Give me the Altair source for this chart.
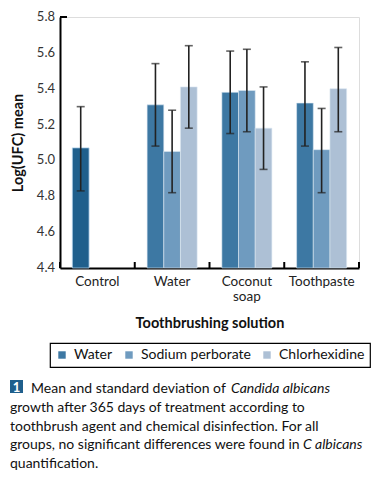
import altair as alt
import pandas as pd

categories = ["Control", "Water", "Coconut soap", "Toothpaste"]
series = ["Water", "Sodium perborate", "Chlorhexidine"]
treated = ["Water", "Coconut soap", "Toothpaste"]
colors = ["#3d78a3", "#6f9bbf", "#adc0d5"]
control_color = "#1f5f8c"

control_mean = [5.07]
control_low = [4.83]
control_high = [5.30]

water_mean = [5.31, 5.38, 5.32]
water_low = [5.08, 5.15, 5.08]
water_high = [5.54, 5.61, 5.55]
perborate_mean = [5.05, 5.39, 5.06]
perborate_low = [4.82, 5.16, 4.82]
perborate_high = [5.28, 5.62, 5.29]
chlor_mean = [5.41, 5.18, 5.40]
chlor_low = [5.18, 4.95, 5.16]
chlor_high = [5.64, 5.41, 5.63]

y_ticks = [4.4, 4.6, 4.8, 5.0, 5.2, 5.4, 5.6, 5.8]
y_labels = ["4.4", "4.6", "4.8", "5.0", "5.2", "5.4", "5.6", "5.8"]

caption_first = "Mean and standard deviation of"
caption_first_italic = "Candida albicans"
caption_rest = ["growth after 365 days of treatment according to",
                "toothbrush agent and chemical disinfection. For all",
                "groups, no significant differences were found in",
                "quantification."]
caption_fourth_italic = "C albicans"

FONT = "Lato"

rows = []
for s, m, lo, hi in [("Water", water_mean, water_low, water_high),
                     ("Sodium perborate", perborate_mean, perborate_low, perborate_high),
                     ("Chlorhexidine", chlor_mean, chlor_low, chlor_high)]:
    for g, a, b, c in zip(treated, m, lo, hi):
        rows.append({"solution": g, "series": s, "mean": a, "low": b, "high": c})
df = pd.DataFrame(rows)
ctrl = pd.DataFrame({"solution": ["Control"], "series": ["Water"],
                     "mean": control_mean, "low": control_low, "high": control_high})
allerr = pd.concat([df, ctrl], ignore_index=True)

W, H = 299, 251

xenc = alt.X("solution:N", scale=alt.Scale(domain=categories, paddingInner=0, paddingOuter=0),
             axis=alt.Axis(title="Toothbrushing solution", labelAngle=0, ticks=False,
                           domainColor="black", domainWidth=2, labelFont=FONT, labelFontSize=13.5,
                           labelColor="#222", labelPadding=6, labelLineHeight=15,
                           labelExpr="split(datum.label, ' ')",
                           titleFont=FONT, titleFontSize=14.5, titleFontWeight="bold",
                           titleColor="#111", titlePadding=14))
xoff = alt.XOffset("series:N", scale=alt.Scale(domain=series, paddingInner=0, paddingOuter=0.742))
yenc = alt.Y("mean:Q", scale=alt.Scale(domain=[4.4, 5.8], zero=False, nice=False),
             axis=alt.Axis(title="Log(UFC) mean", values=y_ticks, grid=False, ticks=False, labels=False,
                           domainColor="black", domainWidth=2,
                           titleFont=FONT, titleFontSize=14.5, titleFontWeight="bold",
                           titleColor="#111", titleX=-42, titleY=H / 2, titleAngle=270,
                           titleAlign="center", titleBaseline="middle"))

bars = alt.Chart(df).mark_bar(stroke="#dbe7f1", strokeWidth=0.6).encode(
    x=xenc, xOffset=xoff, y=yenc, y2=alt.datum(4.4),
    color=alt.Color("series:N", scale=alt.Scale(domain=series, range=colors),
                    legend=alt.Legend(title=None, orient="none", direction="horizontal",
                                      legendX=-10, legendY=326, strokeColor="black",
                                      padding=5, symbolType="square",
                                      symbolSize=55, symbolStrokeWidth=0, labelFont=FONT,
                                      labelFontSize=14, labelColor="#111", columnPadding=9,
                                      labelOffset=5)))

ctrl_bar = alt.Chart(ctrl).mark_bar(color=control_color, stroke="#a9cbe6", strokeWidth=0.8).encode(
    x=alt.X("solution:N"), xOffset=alt.XOffset("series:N"), y=alt.Y("mean:Q"), y2=alt.datum(4.4))

err = alt.Chart(allerr).mark_rule(color="#222", strokeWidth=1.6).encode(
    x=alt.X("solution:N"), xOffset=alt.XOffset("series:N"), y=alt.Y("low:Q"), y2="high:Q")
cap_lo = alt.Chart(allerr).mark_tick(color="#222", size=8, thickness=1.6).encode(
    x=alt.X("solution:N"), xOffset=alt.XOffset("series:N"), y=alt.Y("low:Q"))
cap_hi = alt.Chart(allerr).mark_tick(color="#222", size=8, thickness=1.6).encode(
    x=alt.X("solution:N"), xOffset=alt.XOffset("series:N"), y=alt.Y("high:Q"))

ylab = alt.Chart(pd.DataFrame({"v": y_ticks, "t": y_labels})).mark_text(
    font=FONT, fontSize=13, color="#333", align="right", baseline="middle").encode(
    y=alt.Y("v:Q"), x=alt.value(-5), text="t:N")

tick_df = pd.DataFrame({"solution": categories})
xticks = alt.Chart(tick_df).mark_rule(color="black", strokeWidth=2).encode(
    x=alt.X("solution:N", bandPosition=0), y=alt.value(H), y2=alt.value(H - 6))
xend = alt.Chart(tick_df.tail(1)).mark_rule(color="black", strokeWidth=2).encode(
    x=alt.X("solution:N", bandPosition=1), y=alt.value(H), y2=alt.value(H - 6))
ytop = alt.Chart(pd.DataFrame({"v": [y_ticks[-1]]})).mark_rule(color="black", strokeWidth=2).encode(
    y=alt.Y("v:Q"), x=alt.value(0), x2=alt.value(7))

# caption
cap_y0 = 376
lh = 18.75
badge = alt.Chart(pd.DataFrame({"t": ["1"]})).mark_square(size=169, color=control_color, opacity=1).encode(
    x=alt.value(-43.5), y=alt.value(cap_y0 - 6.5))
badge_t = alt.Chart(pd.DataFrame({"t": ["1"]})).mark_text(font=FONT, fontSize=13, fontWeight="bold",
                                                          color="white", align="center", baseline="alphabetic").encode(
    x=alt.value(-43.5), y=alt.value(cap_y0 - 1.5), text="t:N")
txt_style = dict(font=FONT, fontSize=14, color="#111", align="left", baseline="alphabetic")
line1 = alt.Chart(pd.DataFrame({"t": [caption_first]})).mark_text(**txt_style).encode(
    x=alt.value(-29), y=alt.value(cap_y0), text="t:N")
line1i = alt.Chart(pd.DataFrame({"t": [caption_first_italic]})).mark_text(fontStyle="italic", **txt_style).encode(
    x=alt.value(171), y=alt.value(cap_y0), text="t:N")
rest = alt.Chart(pd.DataFrame({"t": ["\n".join(caption_rest)]})).mark_text(lineBreak="\n", lineHeight=lh, **txt_style).encode(
    x=alt.value(-50), y=alt.value(cap_y0 + lh), text="t:N")
line4i = alt.Chart(pd.DataFrame({"t": [caption_fourth_italic]})).mark_text(fontStyle="italic", **txt_style).encode(
    x=alt.value(243), y=alt.value(cap_y0 + 3 * lh), text="t:N")

chart = alt.layer(bars, ctrl_bar, err, cap_lo, cap_hi, ylab, xticks, xend, ytop,
                  badge, badge_t, line1, line1i, rest, line4i).properties(
    width=W, height=H,
    autosize=alt.AutoSizeParams(type="none"),
    padding={"left": 52, "top": 9, "right": 13, "bottom": 206},
).configure_view(stroke=None).configure(background="white").configure_legend(strokeWidth=1.2)

chart.save("out.html", embed_options={"renderer": "svg", "actions": False})
